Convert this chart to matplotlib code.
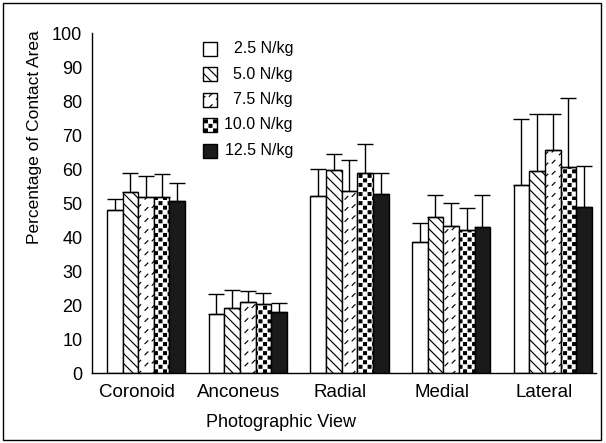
import warnings
import numpy as np
import matplotlib
matplotlib.use("Agg")
import matplotlib.pyplot as plt
from matplotlib import hatch as mhatch
from matplotlib.path import Path
from matplotlib.patches import Rectangle

warnings.filterwarnings("ignore")

# Data (mean contact area, % and upper SD)
views = ["Coronoid", "Anconeus", "Radial", "Medial", "Lateral"]
loads = ["2.5 N/kg", "5.0 N/kg", "7.5 N/kg", "10.0 N/kg", "12.5 N/kg"]

mean_25 = [47.9, 17.5, 52.2, 38.5, 55.4]
mean_50 = [53.3, 19.0, 59.7, 46.0, 59.5]
mean_75 = [51.9, 21.0, 53.6, 43.2, 65.6]
mean_100 = [51.9, 20.2, 58.9, 42.1, 60.5]
mean_125 = [50.7, 17.8, 52.6, 43.0, 48.7]

sd_25 = [3.4, 5.6, 7.7, 5.7, 19.2]
sd_50 = [5.4, 5.5, 4.7, 6.5, 16.7]
sd_75 = [6.1, 3.2, 9.0, 6.9, 10.6]
sd_100 = [6.7, 3.4, 8.6, 6.3, 20.3]
sd_125 = [5.1, 2.9, 6.1, 9.4, 12.2]

means = [mean_25, mean_50, mean_75, mean_100, mean_125]
sds = [sd_25, sd_50, sd_75, sd_100, sd_125]


# --- custom fill patterns to mimic the printed ones ---
class BackslashHatch(mhatch.HatchPatternBase):
    # "\" lines, 10 per inch ('b')
    def __init__(self, hatch, density):
        self.n = 10 if 'b' in hatch else 0
        self.num_vertices = (2 * self.n + 1) * 2 if self.n else 0

    def set_vertices_and_codes(self, vertices, codes):
        c = np.arange(2 * self.n + 1) / self.n
        vertices[0::2, 0] = 0.0
        vertices[0::2, 1] = c
        vertices[1::2, 0] = 1.0
        vertices[1::2, 1] = c - 1.0
        codes[0::2] = Path.MOVETO
        codes[1::2] = Path.LINETO


class DashHatch(mhatch.HatchPatternBase):
    # short "/" dashes in staggered columns ('d')
    def __init__(self, hatch, density):
        self.pts = []
        if 'd' in hatch:
            for i in range(14):
                for j in range(9):
                    x = (i + 0.5) / 14
                    y = ((j + 0.2 + 0.25 * (i % 2)) / 9) % 1
                    self.pts.append((x, y))
        self.num_vertices = len(self.pts) * 2

    def set_vertices_and_codes(self, vertices, codes):
        d = 0.014
        for k, (x, y) in enumerate(self.pts):
            vertices[2 * k] = (x - d, y - d)
            vertices[2 * k + 1] = (x + d, y + d)
            codes[2 * k] = Path.MOVETO
            codes[2 * k + 1] = Path.LINETO


class CheckHatch(mhatch.HatchPatternBase):
    # small filled squares on a staggered grid ('q')
    def __init__(self, hatch, density):
        self.n = 22
        self.cells = []
        if 'q' in hatch:
            self.cells = [(i, j) for i in range(self.n) for j in range(self.n)
                          if (i + j) % 2 == 0]
        self.num_vertices = len(self.cells) * 5

    def set_vertices_and_codes(self, vertices, codes):
        s = 1.0 / self.n
        q = 0.62 * s
        for k, (i, j) in enumerate(self.cells):
            x0, y0 = i * s, j * s
            vertices[5 * k:5 * k + 5] = [(x0, y0), (x0 + q, y0), (x0 + q, y0 + q),
                                         (x0, y0 + q), (x0, y0)]
            codes[5 * k:5 * k + 5] = [Path.MOVETO, Path.LINETO, Path.LINETO,
                                      Path.LINETO, Path.CLOSEPOLY]


mhatch._hatch_types.extend([BackslashHatch, DashHatch, CheckHatch])

styles = [
    dict(facecolor="white", hatch=None),
    dict(facecolor="white", hatch="b"),
    dict(facecolor="white", hatch="d"),
    dict(facecolor="white", hatch="q"),
    dict(facecolor="#1a1a1a", hatch=None),
]

plt.rcParams['font.family'] = 'Liberation Sans'
plt.rcParams['hatch.linewidth'] = 0.85

fig = plt.figure(figsize=(6.06, 4.43), dpi=100)
ax = fig.add_axes([92 / 606, 1 - 373 / 443, 504 / 606, 340 / 443])

x = np.arange(len(views))
width = 0.154

for i, (m, s, st) in enumerate(zip(means, sds, styles)):
    pos = x + (i - 2) * width
    ax.bar(pos, m, width, edgecolor="black", linewidth=1.0, zorder=2, **st)
    ax.errorbar(pos, m, yerr=[np.zeros(len(s)), s], fmt="none", ecolor="black",
                elinewidth=1.0, capsize=5.5, capthick=1.0, zorder=3)

ax.set_xlim(-0.531, 4.425)
ax.set_ylim(0, 100)
ax.set_yticks(np.arange(0, 101, 10))
ax.set_xticks(x - 0.09)
ax.set_xticklabels(views, fontsize=13.5)
ax.tick_params(axis="y", length=0, pad=7, labelsize=13)
ax.tick_params(axis="x", length=0, pad=8)

for side in ["top", "right"]:
    ax.spines[side].set_visible(False)
ax.spines["left"].set_linewidth(1.0)
ax.spines["bottom"].set_linewidth(1.0)

ax.set_ylabel("Percentage of Contact Area", fontsize=12.5)
ax.yaxis.set_label_coords(-0.1, 0.693)
ax.set_xlabel("Photographic View", fontsize=13)
ax.xaxis.set_label_coords((281 - 92) / 504, -0.121)

# legend drawn by hand so labels line up on the right like the original
for k, (lab, st) in enumerate(zip(loads, styles)):
    yc = 48.5 + 25.5 * k
    ax.add_patch(Rectangle(((203 - 92) / 504, (373 - yc - 7) / 340), 14 / 504, 14 / 340,
                           transform=ax.transAxes, edgecolor="black", linewidth=1.0,
                           clip_on=False, **st))
    ax.text((293 - 92) / 504, (373 - yc) / 340, lab, transform=ax.transAxes,
            ha="right", va="center", fontsize=11.5)

# outer frame of the figure
fig.add_artist(Rectangle((3 / 606, 3 / 443), 598 / 606, 437 / 443,
                         transform=fig.transFigure, fill=False,
                         edgecolor="black", linewidth=1.0))

fig.savefig("out.png", dpi=100)
